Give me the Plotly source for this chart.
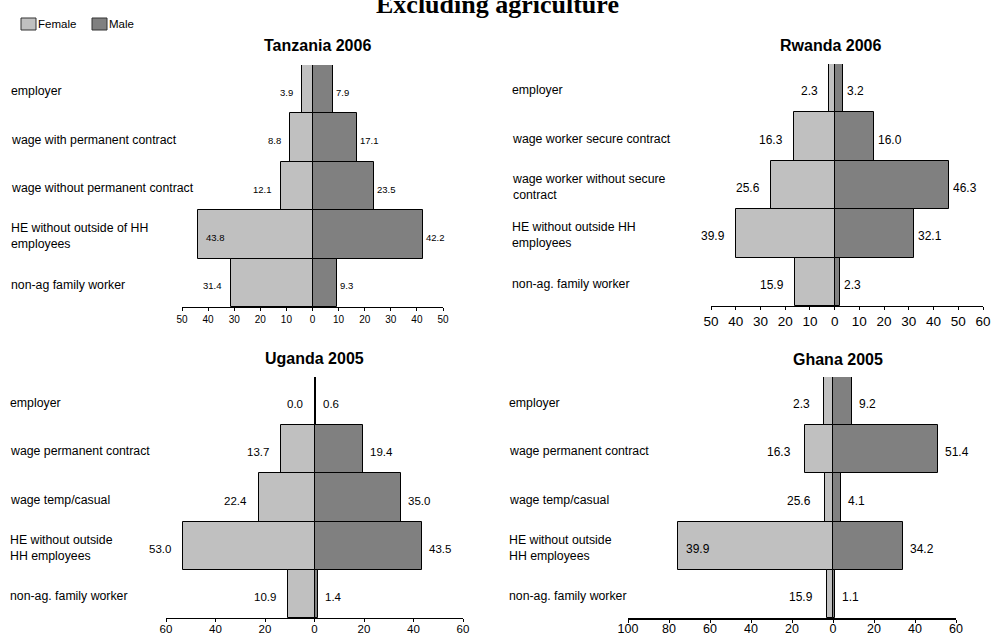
import plotly.graph_objects as go

W, H = 994, 637

# ---------------- data ----------------
tz_categories = ["employer", "wage with permanent contract", "wage without permanent contract",
                 "HE without outside of HH<br>employees", "non-ag family worker"]
tz_female = [3.9, 8.8, 12.1, 43.8, 31.4]
tz_male = [7.9, 17.1, 23.5, 42.2, 9.3]
tz_female_labels = ["3.9", "8.8", "12.1", "43.8", "31.4"]
tz_male_labels = ["7.9", "17.1", "23.5", "42.2", "9.3"]

rw_categories = ["employer", "wage worker secure contract", "wage worker without secure<br>contract",
                 "HE without outside HH<br>employees", "non-ag. family worker"]
rw_female = [2.3, 16.3, 25.6, 39.9, 15.9]
rw_male = [3.2, 16.0, 46.3, 32.1, 2.3]
rw_female_labels = ["2.3", "16.3", "25.6", "39.9", "15.9"]
rw_male_labels = ["3.2", "16.0", "46.3", "32.1", "2.3"]

ug_categories = ["employer", "wage permanent contract", "wage temp/casual",
                 "HE without outside<br>HH employees", "non-ag. family worker"]
ug_female = [0.0, 13.7, 22.4, 53.0, 10.9]
ug_male = [0.6, 19.4, 35.0, 43.5, 1.4]
ug_female_labels = ["0.0", "13.7", "22.4", "53.0", "10.9"]
ug_male_labels = ["0.6", "19.4", "35.0", "43.5", "1.4"]

gh_categories = ["employer", "wage permanent contract", "wage temp/casual",
                 "HE without outside<br>HH employees", "non-ag. family worker"]
gh_female = [4.6, 13.5, 4.0, 75.4, 2.9]          # bar lengths as drawn
gh_male = [9.2, 51.4, 4.1, 34.2, 1.1]
gh_female_labels = ["2.3", "16.3", "25.6", "39.9", "15.9"]  # labels as printed
gh_male_labels = ["9.2", "51.4", "4.1", "34.2", "1.1"]

tz_ticks = [-50, -40, -30, -20, -10, 0, 10, 20, 30, 40, 50]
rw_ticks = [-50, -40, -30, -20, -10, 0, 10, 20, 30, 40, 50, 60]
ug_ticks = [-60, -40, -20, 0, 20, 40, 60]
gh_ticks = [-100, -80, -60, -40, -20, 0, 20, 40, 60]

FEMALE_COLOR = "#C0C0C0"
MALE_COLOR = "#808080"
SANS = "Arial, Liberation Sans, sans-serif"

def px_x(x):
    return x / W

def px_y(y):
    return 1 - y / H

panels = [
    dict(title="Tanzania 2006", cats=tz_categories, f=tz_female, m=tz_male,
         fl=tz_female_labels, ml=tz_male_labels, ticks=tz_ticks, rng=[-50, 50],
         xdom=[182, 443], ydom=[65, 307], title_xy=(317, 45), cat_x=9,
         tick_size=10, val_size=9.5, cat_size=12.3, axis_w=1, inside=[3],
         fshift=-7, mshift=1, standoff=0),
    dict(title="Rwanda 2006", cats=rw_categories, f=rw_female, m=rw_male,
         fl=rw_female_labels, ml=rw_male_labels, ticks=rw_ticks, rng=[-50, 60],
         xdom=[711, 983], ydom=[64, 306], title_xy=(830, 45), cat_x=510,
         tick_size=13.5, val_size=12, cat_size=12.3, axis_w=1, inside=[],
         fshift=-9, mshift=2, standoff=0),
    dict(title="Uganda 2005", cats=ug_categories, f=ug_female, m=ug_male,
         fl=ug_female_labels, ml=ug_male_labels, ticks=ug_ticks, rng=[-60, 60],
         xdom=[166, 463], ydom=[377, 618], title_xy=(314, 358), cat_x=8,
         tick_size=11.5, val_size=11.5, cat_size=12.3, axis_w=1, inside=[],
         fshift=-10, mshift=5, standoff=-3),
    dict(title="Ghana 2005", cats=gh_categories, f=gh_female, m=gh_male,
         fl=gh_female_labels, ml=gh_male_labels, ticks=gh_ticks, rng=[-100, 60],
         xdom=[628, 956], ydom=[377, 618], title_xy=(838, 359), cat_x=507,
         tick_size=12.5, val_size=12, cat_size=12.3, axis_w=2, inside=[3],
         fshift=-12, mshift=5, standoff=-5),
]

fig = go.Figure()
annotations = []
shapes = []
layout = {}

for i, p in enumerate(panels):
    n = "" if i == 0 else str(i + 1)
    xa, ya = "x" + n, "y" + n
    neg_f = [-v for v in p["f"]]
    fig.add_trace(go.Bar(y=p["cats"], x=neg_f, orientation="h", name="Female",
                         marker=dict(color=FEMALE_COLOR, line=dict(color="black", width=1)),
                         xaxis=xa, yaxis=ya, showlegend=False))
    fig.add_trace(go.Bar(y=p["cats"], x=p["m"], orientation="h", name="Male",
                         marker=dict(color=MALE_COLOR, line=dict(color="black", width=1)),
                         xaxis=xa, yaxis=ya, showlegend=False))
    layout["xaxis" + n] = dict(
        domain=[px_x(p["xdom"][0]), px_x(p["xdom"][1])], anchor=ya, automargin=False,
        range=p["rng"], tickvals=p["ticks"], ticktext=[str(abs(t)) for t in p["ticks"]],
        showline=True, linecolor="black", linewidth=p["axis_w"], ticks="outside",
        ticklen=3, tickcolor="black", showgrid=False, zeroline=True,
        zerolinecolor="black", zerolinewidth=2, fixedrange=True,
        ticklabelstandoff=p["standoff"],
        tickfont=dict(family=SANS, size=p["tick_size"], color="black"))
    layout["yaxis" + n] = dict(
        domain=[px_y(p["ydom"][1]), px_y(p["ydom"][0])], anchor=xa, automargin=False,
        type="category", categoryorder="array", categoryarray=p["cats"],
        range=[4.5, -0.5], showticklabels=False, showline=False, showgrid=False,
        zeroline=False, ticks="", fixedrange=True)
    # panel title
    annotations.append(dict(text="<b>" + p["title"] + "</b>", xref="paper", yref="paper",
                            x=px_x(p["title_xy"][0]), y=px_y(p["title_xy"][1]),
                            xanchor="center", yanchor="middle", showarrow=False,
                            font=dict(family=SANS, size=16, color="black")))
    # category labels
    for c in p["cats"]:
        annotations.append(dict(text=c, xref="paper", yref=ya, x=px_x(p["cat_x"]), y=c,
                                xanchor="left", yanchor="middle", align="left", showarrow=False,
                                yshift=-2, font=dict(family=SANS, size=p["cat_size"], color="black")))
    # value labels
    for k, c in enumerate(p["cats"]):
        if k in p["inside"]:
            annotations.append(dict(text=p["fl"][k], xref=xa, yref=ya, x=-p["f"][k], y=c,
                                    xanchor="left", yanchor="middle", showarrow=False,
                                    xshift=6, yshift=-3,
                                    font=dict(family=SANS, size=p["val_size"], color="black")))
        else:
            annotations.append(dict(text=p["fl"][k], xref=xa, yref=ya, x=-p["f"][k], y=c,
                                    xanchor="right", yanchor="middle", showarrow=False,
                                    xshift=p["fshift"], yshift=-3,
                                    font=dict(family=SANS, size=p["val_size"], color="black")))
        annotations.append(dict(text=p["ml"][k], xref=xa, yref=ya, x=p["m"][k], y=c,
                                xanchor="left", yanchor="middle", showarrow=False,
                                xshift=p["mshift"], yshift=-3,
                                font=dict(family=SANS, size=p["val_size"], color="black")))

# main title (partially cut off at the top, as in the reference)
annotations.append(dict(text="<b>Excluding agriculture</b>", xref="paper", yref="paper",
                        x=px_x(498), y=px_y(4), xanchor="center", yanchor="middle",
                        showarrow=False,
                        font=dict(family="Times New Roman, Liberation Serif, serif", size=26,
                                  color="black")))

# manual legend
legend_items = [("Female", FEMALE_COLOR, 21), ("Male", MALE_COLOR, 92)]
for name, col, x0 in legend_items:
    shapes.append(dict(type="rect", xref="paper", yref="paper",
                       x0=px_x(x0), x1=px_x(x0 + 15), y0=px_y(30), y1=px_y(18),
                       fillcolor=col, line=dict(color="#333333", width=1)))
    annotations.append(dict(text=name, xref="paper", yref="paper", x=px_x(x0 + 15), y=px_y(24),
                            xanchor="left", yanchor="middle", showarrow=False,
                            font=dict(family=SANS, size=11.5, color="black")))

fig.update_layout(
    width=W, height=H, margin=dict(l=0, r=0, t=0, b=0, autoexpand=False),
    paper_bgcolor="white", plot_bgcolor="white",
    barmode="relative", bargap=0,
    annotations=annotations, shapes=shapes, showlegend=False,
    **layout)

fig.write_html("out.html", config={"displayModeBar": False},
               post_script="document.body.style.margin='0';document.body.style.overflow='hidden';")
